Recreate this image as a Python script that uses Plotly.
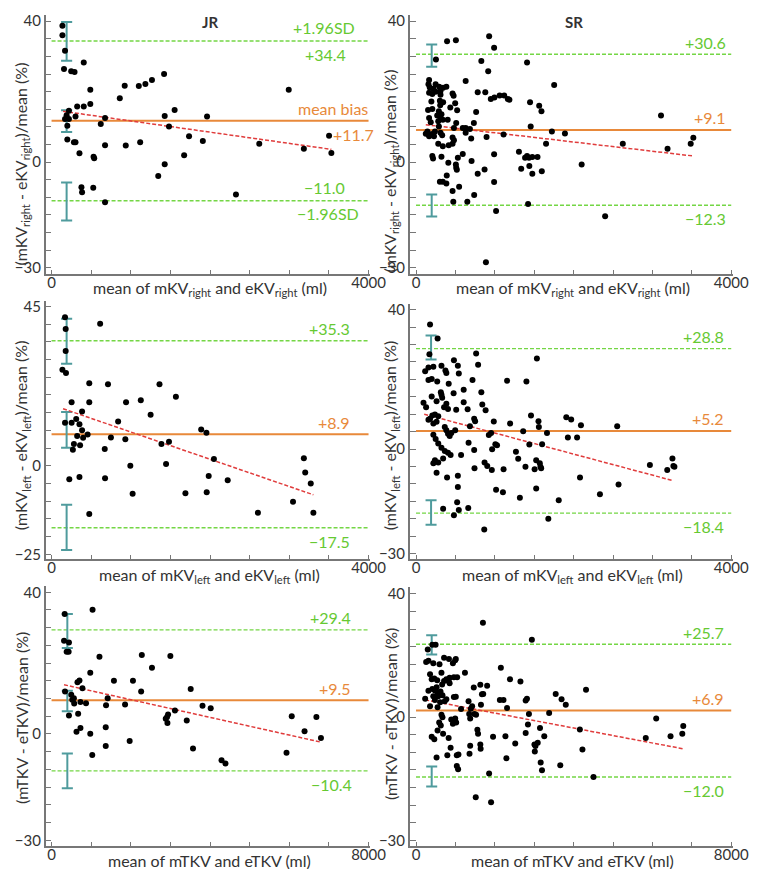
import plotly.graph_objects as go

W, H = 759, 869
FONT = "Lato"
GREEN = "#74d645"
GREEN_TXT = "#66c932"
ORANGE = "#e8893a"
TEAL = "#4f9b9d"
RED = "#e03c3c"
AXIS = "#777777"
TXT = "#333333"

# ---------------- data ----------------
# JR right kidney
jr_right_x = [137, 137, 170, 157, 248, 290, 406, 170, 219, 190, 219, 302, 323, 406, 199, 282, 302, 352, 489, 489,
              530, 538, 377, 385, 526, 675, 675, 675, 621, 861, 923, 936, 1101, 1118, 1184, 1267, 1420, 1428, 1482,
              1553, 1346, 1428, 1673, 1735, 1909, 1962, 2327, 2621, 2993, 3184, 3502, 3531, 199]
jr_right_y = [38.7, 36.0, 31.6, 26.4, 25.8, 25.6, 28.3, 12.2, 12.2, 13.3, 14.6, 12.9, 15.8, 15.8, 6.4, 5.6, 5.6, 2.5,
              20.5, 16.5, 1.5, 1.1, -7.2, -8.6, -7.3, -11.4, 12.5, 4.8, 10.8, 18.1, 21.7, 4.7, 21.6, 5.6, 22.2, 23.3,
              25.0, 13.1, 10.1, 14.8, -4.0, -0.6, 1.9, 7.3, 6.0, 12.9, -9.2, 5.2, 20.5, 3.8, 7.5, 2.6, 10.3]

# SR right kidney
sr_right_x = [394, 506, 928, 991, 253, 829, 916, 1409, 630, 1753, 783, 879, 166, 158, 174, 220, 249, 294, 311, 344,
              385, 166, 207, 249, 311, 464, 477, 195, 303, 344, 497, 153, 207, 307, 435, 522, 290, 323, 269, 311,
              340, 166, 187, 282, 510, 402, 124, 153, 187, 216, 240, 145, 228, 166, 290, 311, 332, 481, 593, 630,
              684, 630, 700, 464, 481, 282, 340, 415, 464, 207, 216, 323, 410, 506, 531, 510, 518, 593, 705, 390,
              303, 340, 385, 547, 464, 473, 651, 738, 783, 870, 734, 763, 895, 949, 995, 1061, 1119, 1165, 1185,
              1111, 991, 991, 1016, 887, 1447, 1455, 1563, 1592, 1650, 1724, 1890, 1306, 1335, 1384, 1409, 1434,
              1476, 1542, 1438, 1476, 1596, 1422, 2102, 2400, 2624, 3109, 3192, 3486, 3519]
sr_right_y = [34.3, 34.6, 35.7, 32.5, 29.1, 28.7, 25.8, 28.3, 23.0, 21.9, 19.8, 19.8, 23.3, 22.1, 21.2, 20.8, 22.1,
              21.4, 20.2, 21.1, 21.4, 19.7, 19.3, 20.0, 19.1, 19.5, 18.8, 17.2, 17.4, 17.0, 16.7, 14.8, 15.1, 16.1,
              15.5, 14.7, 14.4, 13.6, 13.2, 12.5, 12.0, 12.5, 11.3, 11.6, 11.1, 12.0, 8.0, 8.0, 7.8, 8.0, 8.7, 8.7,
              7.3, 7.3, 10.1, 8.3, 7.6, 9.7, 9.7, 9.7, 9.4, 8.3, 6.7, 7.0, 6.2, 5.2, 4.5, 4.8, 5.2, 1.7, 1.0, 1.5,
              -0.2, -0.7, 1.2, -1.6, -2.2, 2.3, 0.3, -3.8, -5.6, -5.6, -6.1, -7.0, -8.2, -11.3, -11.3, -9.4, -3.3,
              -2.1, 11.1, 14.2, 7.1, 17.9, 18.3, 18.9, 18.9, 17.9, 17.7, 7.8, 2.2, -5.7, -13.9, -28.5, 17.0, 10.1,
              16.0, 14.4, 5.2, 8.7, 8.1, 2.9, -1.9, 1.2, 1.7, 1.2, 1.4, 1.4, -1.1, -3.3, -2.6, -11.9, -0.7, -15.4,
              5.2, 13.2, 3.8, 5.2, 6.9]

# JR left kidney
jr_left_x = [170, 178, 178, 137, 182, 613, 476, 712, 253, 476, 385, 170, 253, 311, 352, 385, 323, 398, 455, 360,
             282, 269, 224, 352, 476, 671, 675, 749, 840, 931, 940, 994, 1023, 1126, 1250, 1362, 1387, 1445, 1482,
             1569, 1689, 1888, 1954, 1983, 2049, 1958, 2223, 2604, 3047, 3184, 3201, 3271, 3304]
jr_left_y = [41.9, 38.6, 32.4, 27.1, 26.2, 40.1, 23.3, 23.0, 17.9, 17.9, 15.3, 12.1, 12.1, 13.2, 11.7, 10.0, 8.4,
             7.9, 8.8, 5.8, 6.1, 4.5, -3.8, -3.2, -13.6, 4.7, -3.5, 8.0, 12.5, 7.5, 17.9, 0.0, -7.9, 18.5, 14.4,
             23.0, 6.1, 0.5, 6.8, 19.5, -7.8, 10.2, 9.3, -2.9, 1.9, -7.5, -4.1, -13.3, -10.2, 2.1, -1.9, -5.0, -13.3]

# SR left kidney
sr_left_x = [178, 274, 170, 116, 158, 158, 199, 220, 269, 323, 373, 385, 481, 531, 543, 95, 199, 261, 315, 323,
             332, 415, 477, 605, 605, 717, 763, 788, 829, 841, 883, 655, 128, 178, 207, 240, 282, 158, 220, 261,
             385, 406, 356, 510, 365, 385, 406, 427, 448, 497, 220, 249, 282, 323, 365, 406, 439, 240, 282, 220,
             261, 344, 394, 531, 531, 522, 543, 663, 344, 481, 572, 667, 684, 738, 750, 738, 742, 866, 870, 904,
             962, 924, 953, 966, 987, 1007, 1028, 1016, 1103, 1111, 1156, 1194, 1268, 1297, 1318, 1360, 1389, 1401,
             1438, 1459, 1505, 1525, 1525, 1554, 1559, 1571, 1579, 1588, 1600, 1534, 1662, 1679, 1811, 1907, 1927,
             1969, 2044, 2081, 2093, 2334, 2553, 2570, 2968, 3188, 3254, 3266, 3279]
sr_left_y = [35.7, 31.7, 27.2, 22.3, 23.4, 19.8, 20.1, 23.6, 19.4, 23.9, 22.5, 21.8, 25.5, 23.9, 21.7, 13.3, 15.1,
             13.7, 16.3, 15.6, 14.7, 18.7, 16.0, 17.0, 13.4, 19.8, 27.4, 24.2, 16.3, 12.8, 11.1, 11.4, 12.0, 8.7,
             9.6, 9.9, 9.4, 8.4, 7.3, 7.8, 13.0, 11.5, 12.0, 11.3, 6.3, 5.4, 4.4, 3.7, 4.6, 5.4, 4.1, 2.9, 1.6, 0.4,
             -0.6, -1.1, -1.7, -3.2, -3.9, -4.1, -6.8, -2.7, -8.2, -7.7, -10.9, -15.3, -17.5, -16.9, -17.1, -19.0,
             -1.7, 1.8, 6.5, 8.7, 8.0, -0.3, -5.5, -23.1, -3.9, -4.9, -6.0, 4.0, 4.6, -0.1, 7.9, 1.4, 1.1, -11.7,
             -12.4, -5.8, 19.6, 7.3, -0.8, -2.8, -14.0, 5.1, -5.1, 19.4, 1.3, 9.6, -5.8, -11.3, -3.2, 8.0, 6.3,
             -4.1, -5.1, -5.5, 1.4, 26.0, 4.6, -20.0, -14.7, 9.1, 3.3, 8.5, 3.3, -8.2, 6.8, -13.0, 6.5, -10.2, -4.6,
             -6.0, -2.7, -4.9, -5.1]

# JR total
jr_total_x = [331, 1035, 315, 439, 381, 431, 1209, 2278, 2998, 2534, 977, 1574, 2054, 654, 704, 779, 340, 2261,
              3512, 497, 563, 522, 1416, 729, 870, 571, 1375, 1855, 3810, 4017, 3114, 439, 671, 2915, 2940, 2882,
              2924, 3412, 729, 629, 1367, 977, 1367, 1971, 1027, 3570, 4290, 4389, 6062, 6385, 6684, 6799, 5930]
jr_total_y = [33.9, 35.1, 26.3, 25.8, 23.2, 23.2, 21.8, 22.3, 22.0, 18.7, 17.3, 15.0, 15.0, 14.6, 15.1, 12.9, 12.0,
              12.0, 12.7, 11.1, 10.1, 9.7, 10.1, 9.0, 8.7, 8.6, 8.1, 8.3, 8.0, 7.3, 6.6, 5.2, 5.7, 4.8, 5.5, 4.3,
              3.1, 3.8, 1.7, 0.6, 1.9, 0.1, -3.4, -2.0, -5.9, -4.1, -7.4, -8.3, 5.0, 0.8, 4.8, -1.1, -5.3]

# SR total
sr_total_x = [1698, 2940, 298, 414, 497, 257, 315, 439, 596, 712, 836, 936, 994, 1010, 356, 398, 464, 538, 646,
              712, 770, 828, 853, 961, 1044, 1242, 315, 414, 480, 547, 621, 663, 522, 853, 232, 356, 439, 480, 563,
              613, 671, 729, 770, 961, 1010, 547, 646, 671, 588, 629, 547, 687, 398, 464, 828, 878, 522, 795, 894,
              936, 994, 1019, 1143, 1035, 1077, 1035, 1068, 1333, 1350, 1375, 1391, 1424, 1466, 1482, 1524, 1375,
              1358, 1557, 1574, 1632, 1640, 1632, 1648, 1673, 1706, 1805, 1516, 1855, 1905, 1955, 2153, 2128, 2220,
              2311, 2269, 2294, 2385, 2518, 2650, 2783, 2816, 2866, 2841, 2783, 3006, 3015, 3031, 3089, 3147, 3164,
              3197, 3255, 3379, 3545, 3661, 3694, 3801, 4158, 4224, 4315, 4505, 5831, 6096, 6460, 6758, 6783]
sr_total_y = [31.8, 27.0, 24.2, 25.6, 25.6, 20.7, 21.0, 20.3, 20.0, 21.9, 21.5, 20.3, 21.2, 21.5, 17.2, 15.8, 16.0,
              15.5, 17.6, 15.3, 15.8, 15.3, 16.2, 16.3, 16.3, 17.6, 12.5, 13.0, 12.6, 11.9, 12.3, 14.3, 13.5, 14.6,
              10.2, 8.1, 10.9, 9.9, 10.9, 9.2, 11.2, 9.5, 10.1, 10.7, 10.8, 7.8, 5.7, 5.0, 3.5, 2.6, 1.2, 0.3, -0.6,
              -1.3, -0.9, -3.7, -6.5, -5.8, 4.3, 3.1, 4.6, 3.5, 7.3, -5.8, -5.6, -8.9, -9.8, 9.5, 5.9, 4.6, 7.4, 8.1,
              13.4, 5.9, 5.7, -3.1, -5.4, 1.4, 0.3, -2.8, -4.0, 14.2, 8.5, 11.5, 11.6, 13.9, -17.8, -11.0, -19.2,
              -0.6, 19.0, 9.9, 9.9, 7.6, -0.4, -6.7, 15.8, -2.5, 15.1, 9.7, 10.2, 5.9, 2.9, 0.5, -2.8, -4.8, -3.2,
              -2.3, 1.9, -7.9, -10.1, -0.4, 6.2, 11.6, -8.7, 10.1, 8.5, 1.5, -4.2, 12.8, -12.0, -0.9, 4.6, -0.4, 0.3,
              2.5]

# limits of agreement [upper, mean bias, lower]
loa = {
    "jr_right": [34.4, 11.7, -11.0],
    "sr_right": [30.6, 9.1, -12.3],
    "jr_left": [35.3, 8.9, -17.5],
    "sr_left": [28.8, 5.2, -18.4],
    "jr_total": [29.4, 9.5, -10.4],
    "sr_total": [25.7, 6.9, -12.0],
}
# confidence intervals: x position, then (lo, hi) of upper, mean, lower (None = not shown)
ci_x = {"jr_right": 190, "sr_right": 199, "jr_left": 190, "sr_left": 191, "jr_total": 398, "sr_total": 398}
ci = {
    "jr_right": [(28.8, 39.8), (8.5, 14.7), (-16.6, -5.8)],
    "sr_right": [(27.1, 33.4), None, (-15.5, -9.2)],
    "jr_left": [(28.8, 41.5), (5.1, 15.2), (-23.8, -11.0)],
    "sr_left": [(25.7, 32.6), None, (-21.7, -14.7)],
    "jr_total": [(24.3, 33.9), (6.4, 12.2), (-15.3, -5.5)],
    "sr_total": [(22.8, 28.3), None, (-14.7, -9.0)],
}
# regression line end points
reg_x = {"jr_right": [145, 3531], "sr_right": [124, 3523], "jr_left": [145, 3304],
         "sr_left": [104, 3266], "jr_total": [315, 6799], "sr_total": [232, 6775]}
reg_y = {"jr_right": [14.4, 3.6], "sr_right": [10.6, 1.7], "jr_left": [16.1, -8.2],
         "sr_left": [10.0, -9.1], "jr_total": [13.9, -2.3], "sr_total": [9.9, -4.0]}

# tick labels
ytick_top_row = ([40, 0, -30], ["40", "0", "\u221230"])
ytick_jr_left = ([45, 0, -25], ["45", "0", "\u221225"])
ytick_sr_left = ([40, 0, -30], ["40", "0", "\u221230"])
ytick_jr_total = ([40, 0, -30], ["40", "0", "\u221230"])
ytick_sr_total = ([40, 5, -30], ["40", "0", "\u221230"])   # "0" label sits on the 5 tick in the original

x_titles = {
    "right": "mean of mKV<sub>right</sub> and eKV<sub>right</sub> (ml)",
    "left": "mean of mKV<sub>left</sub> and eKV<sub>left</sub> (ml)",
    "total": "mean of mTKV and eTKV (ml)",
}
y_titles = {
    "right": "(mKV<sub>right</sub> - eKV<sub>right</sub>)/mean (%)",
    "left": "(mKV<sub>left</sub> - eKV<sub>left</sub>)/mean (%)",
    "total": "(mTKV - eTKV)/mean (%)",
}

# ---------------- layout geometry (pixels) ----------------
COLS = {
    "L": dict(yline=38.5, x0=44.5, xt=368.3, right=370, ytitle=14, xtitle=206),
    "R": dict(yline=410.5, x0=416.8, xt=738.8, right=741, ytitle=391, xtitle=577),
}
panels = [
    dict(key="jr_right", col="L", kind="right", x=jr_right_x, y=jr_right_y, xmax=4000, xstep=500,
         top=3, bottom=264, yhi=40, yhi_px=9.3, ylo=-30, ylo_px=257.7, yt=ytick_top_row,
         ytitle_px=153, xtitle_px=279, lab_px=[353, 353, 353], head="JR"),
    dict(key="sr_right", col="R", kind="right", x=sr_right_x, y=sr_right_y, xmax=4000, xstep=500,
         top=3, bottom=264, yhi=40, yhi_px=9.3, ylo=-30, ylo_px=257.7, yt=ytick_top_row,
         ytitle_px=160, xtitle_px=279, lab_px=[735, 735, 735], head="SR"),
    dict(key="jr_left", col="L", kind="left", x=jr_left_x, y=jr_left_y, xmax=4000, xstep=500,
         top=291, bottom=551.7, yhi=45, yhi_px=296.7, ylo=-25, ylo_px=546.7, yt=ytick_jr_left,
         ytitle_px=427, xtitle_px=568, lab_px=[351, 351, 351], head=None),
    dict(key="sr_left", col="R", kind="left", x=sr_left_x, y=sr_left_y, xmax=4000, xstep=500,
         top=294, bottom=551.7, yhi=40, yhi_px=300, ylo=-30, ylo_px=546, yt=ytick_sr_left,
         ytitle_px=427, xtitle_px=568, lab_px=[733, 733, 733], head=None),
    dict(key="jr_total", col="L", kind="total", x=jr_total_x, y=jr_total_y, xmax=8000, xstep=1000,
         top=579, bottom=840.7, yhi=40, yhi_px=585, ylo=-30, ylo_px=835, yt=ytick_jr_total,
         ytitle_px=712, xtitle_px=855, lab_px=[352, 352, 353], head=None),
    dict(key="sr_total", col="R", kind="total", x=sr_total_x, y=sr_total_y, xmax=8000, xstep=1000,
         top=580, bottom=840.7, yhi=40, yhi_px=586.7, ylo=-30, ylo_px=835, yt=ytick_sr_total,
         ytitle_px=708, xtitle_px=855, lab_px=[733, 733, 733], head=None),
]

fig = go.Figure()
annotations = []
layout = {}

for i, p in enumerate(panels):
    s = "" if i == 0 else str(i + 1)
    xa, ya = "x" + s, "y" + s
    c = COLS[p["col"]]
    key = p["key"]
    # ranges from pixel geometry
    sx = (c["xt"] - c["x0"]) / p["xmax"]
    xr = [(c["yline"] - c["x0"]) / sx, (c["right"] - c["x0"]) / sx]
    sy = (p["ylo_px"] - p["yhi_px"]) / (p["yhi"] - p["ylo"])
    yr = [p["ylo"] - (p["bottom"] - p["ylo_px"]) / sy, p["yhi"] + (p["yhi_px"] - p["top"]) / sy]

    xt_vals = list(range(0, p["xmax"] + 1, p["xstep"]))
    xt_text = [str(v) if v in (0, p["xmax"]) else "" for v in xt_vals]
    yt_vals = list(range(int(p["yhi"]), int(p["ylo"]) - 1, -5))
    yt_text = [p["yt"][1][p["yt"][0].index(v)] if v in p["yt"][0] else "" for v in yt_vals]

    common = dict(showgrid=False, zeroline=False, showline=True, linecolor=AXIS, linewidth=1.6,
                  ticks="inside", tickcolor=AXIS, tickwidth=1.2,
                  tickfont=dict(family=FONT, size=15, color=TXT))
    layout["xaxis" + s] = dict(common, domain=[c["yline"] / W, c["right"] / W], range=xr, anchor=ya,
                               tickmode="array", tickvals=xt_vals, ticktext=xt_text, ticklen=4,
                               ticklabelstandoff=-6)
    layout["yaxis" + s] = dict(common, domain=[1 - p["bottom"] / H, 1 - p["top"] / H], range=yr, anchor=xa,
                               tickmode="array", tickvals=yt_vals, ticktext=yt_text, ticklen=6)

    up, mb, lo = loa[key]
    # LoA lines
    for val, col, dash, wdt in [(up, GREEN, "dash", 1.4), (lo, GREEN, "dash", 1.4), (mb, ORANGE, "solid", 2)]:
        fig.add_trace(go.Scatter(x=[0, p["xmax"]], y=[val, val], mode="lines", xaxis=xa, yaxis=ya,
                                 line=dict(color=col, width=wdt, dash=dash if dash == "solid" else "4px,2px"),
                                 showlegend=False, hoverinfo="skip"))
    # CI bars
    hw = p["xmax"] * 0.0175
    cx = ci_x[key]
    ex, ey = [], []
    for seg in ci[key]:
        if seg is None:
            continue
        a, b = seg
        ex += [cx, cx, None, cx - hw, cx + hw, None, cx - hw, cx + hw, None]
        ey += [a, b, None, a, a, None, b, b, None]
    fig.add_trace(go.Scatter(x=ex, y=ey, mode="lines", xaxis=xa, yaxis=ya,
                             line=dict(color=TEAL, width=2), showlegend=False, hoverinfo="skip"))
    # regression
    fig.add_trace(go.Scatter(x=reg_x[key], y=reg_y[key], mode="lines", xaxis=xa, yaxis=ya,
                             line=dict(color=RED, width=1.5, dash="4px,2px"), showlegend=False))
    # points
    fig.add_trace(go.Scatter(x=p["x"], y=p["y"], mode="markers", xaxis=xa, yaxis=ya,
                             marker=dict(color="black", size=6), showlegend=False))

    # value labels
    fmt = lambda v: ("+" if v > 0 else "\u2212") + f"{abs(v):.1f}"
    if key == "jr_right":
        items = [("+1.96SD", GREEN_TXT, up, 13, 323), (fmt(up), GREEN_TXT, up, -13.5, 324),
                 ("mean bias", ORANGE, mb, 12.5, 332), (fmt(mb), ORANGE, mb, -14, 353),
                 (fmt(lo), GREEN_TXT, lo, 13.5, 323), ("\u22121.96SD", GREEN_TXT, lo, -13, 327)]
        for t, col, v, sh, cxp in items:
            annotations.append(dict(text=t, x=cxp / W, xref="paper", y=v, yref=ya, yshift=sh,
                                    xanchor="center", yanchor="middle", showarrow=False,
                                    font=dict(family=FONT, size=16, color=col)))
    else:
        items = [(fmt(up), GREEN_TXT, up, 12), (fmt(mb), ORANGE, mb, 12), (fmt(lo), GREEN_TXT, lo, -13.5)]
        for (t, col, v, sh), rp in zip(items, p["lab_px"]):
            annotations.append(dict(text=t, x=rp / W, xref="paper", y=v, yref=ya, yshift=sh,
                                    xanchor="right", yanchor="middle", showarrow=False,
                                    font=dict(family=FONT, size=16, color=col)))

    # axis titles
    annotations.append(dict(text=x_titles[p["kind"]], x=c["xtitle"] / W, y=1 - p["xtitle_px"] / H,
                            xref="paper", yref="paper", xanchor="center", yanchor="middle", showarrow=False,
                            font=dict(family=FONT, size=16, color=TXT)))
    annotations.append(dict(text=y_titles[p["kind"]], x=c["ytitle"] / W, y=1 - p["ytitle_px"] / H,
                            xref="paper", yref="paper", xanchor="center", yanchor="middle", showarrow=False,
                            textangle=-90, font=dict(family=FONT, size=16, color=TXT)))
    if p["head"]:
        annotations.append(dict(text="<b>" + p["head"] + "</b>", x=(c["x0"] + (c["xt"] - c["x0"]) * 0.5) / W,
                                y=1 - 10 / H, xref="paper", yref="paper", xanchor="center", yanchor="middle",
                                showarrow=False, font=dict(family=FONT, size=15, color=TXT)))

fig.update_layout(width=W, height=H, margin=dict(l=0, r=0, t=0, b=0), plot_bgcolor="white",
                  paper_bgcolor="white", annotations=annotations, **layout)
fig.write_html("out.html")
